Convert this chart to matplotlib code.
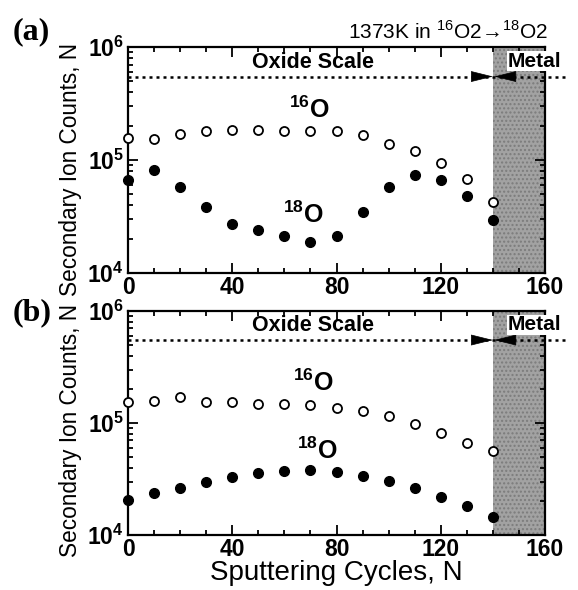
import numpy as np
import matplotlib
matplotlib.use("Agg")
import matplotlib.pyplot as plt
from matplotlib.ticker import MultipleLocator, LogLocator, NullFormatter

plt.rcParams["font.family"] = ["Liberation Sans", "DejaVu Sans"]
plt.rcParams["mathtext.fontset"] = "custom"
plt.rcParams["mathtext.rm"] = "Liberation Sans"
plt.rcParams["mathtext.bf"] = "Liberation Sans:bold"

# sputtering cycles
cycles = [0, 10, 20, 30, 40, 50, 60, 70, 80, 90, 100, 110, 120, 130, 140]

# panel (a)
o16_a = [1.57e5, 1.55e5, 1.72e5, 1.80e5, 1.86e5, 1.86e5, 1.80e5, 1.82e5,
         1.82e5, 1.66e5, 1.40e5, 1.21e5, 9.4e4, 6.8e4, 4.25e4]
o18_a = [6.7e4, 8.2e4, 5.8e4, 3.85e4, 2.74e4, 2.39e4, 2.14e4, 1.87e4,
         2.14e4, 3.5e4, 5.74e4, 7.4e4, 6.7e4, 4.84e4, 2.93e4]

# panel (b)
o16_b = [1.53e5, 1.57e5, 1.70e5, 1.53e5, 1.53e5, 1.49e5, 1.49e5, 1.46e5,
         1.37e5, 1.28e5, 1.15e5, 9.9e4, 8.1e4, 6.6e4, 5.6e4]
o18_b = [2.07e4, 2.38e4, 2.65e4, 2.99e4, 3.32e4, 3.55e4, 3.70e4, 3.82e4,
         3.65e4, 3.38e4, 3.05e4, 2.62e4, 2.21e4, 1.83e4, 1.46e4]

interface = 140
xmax = 160
arrow_y = 5.5e5

fig = plt.figure(figsize=(5.78, 5.90), dpi=100)
ax_a = fig.add_axes([0.2215, 0.537, 0.7215, 0.383])
ax_b = fig.add_axes([0.2215, 0.093, 0.7215, 0.380])


def setup(ax, o16, o18, lab16, lab18, ylab_y):
    ax.axvspan(interface, xmax, facecolor="#a2a2a2", edgecolor="#7c7c7c",
               hatch="....", lw=0, zorder=0)
    ax.plot(cycles, o16, "o", ms=6.5, mfc="white", mec="k", mew=1.3, zorder=3,
            clip_on=False)
    ax.plot(cycles, o18, "o", ms=7, mfc="k", mec="k", zorder=3, clip_on=False)
    ax.set_yscale("log")
    ax.set_xlim(0, xmax)
    ax.set_ylim(1e4, 1e6)
    ax.xaxis.set_major_locator(MultipleLocator(40))
    ax.xaxis.set_minor_locator(MultipleLocator(10))
    ax.yaxis.set_major_locator(LogLocator(base=10, numticks=5))
    ax.yaxis.set_minor_locator(LogLocator(base=10, subs=np.arange(2, 10), numticks=20))
    ax.yaxis.set_minor_formatter(NullFormatter())
    ax.tick_params(which="both", direction="in", top=True, right=True, width=1.3)
    ax.tick_params(which="major", length=7, labelsize=16.5, pad=2)
    ax.tick_params(axis="y", which="major", pad=3)
    ax.tick_params(which="minor", length=3.5)
    for t in ax.get_xticklabels() + ax.get_yticklabels():
        t.set_fontweight("bold")
    for s in ax.spines.values():
        s.set_linewidth(1.6)
    ax.set_ylabel("Secondary Ion Counts, N", fontsize=16.3)
    ax.yaxis.set_label_coords(-0.11, ylab_y)

    # dotted line with the two arrow heads at the interface
    ax.plot([0, 168], [arrow_y, arrow_y], ls=(0, (1.2, 1.6)), color="k", lw=1.8,
            clip_on=False, zorder=4)
    head = "-|>,head_length=1.45,head_width=0.36"
    ax.annotate("", xy=(interface, arrow_y), xytext=(interface - 7.7, arrow_y),
                arrowprops=dict(arrowstyle=head, color="k", lw=0.5,
                                shrinkA=0, shrinkB=0), zorder=5)
    ax.annotate("", xy=(interface + 0.5, arrow_y), xytext=(interface + 8.5, arrow_y),
                arrowprops=dict(arrowstyle=head, color="k", lw=0.5,
                                shrinkA=0, shrinkB=0), zorder=5)
    ax.text(71, 7.35e5, "Oxide Scale", fontsize=15.5, fontweight="bold",
            ha="center", va="center")
    ax.text(156, 7.5e5, "Metal", fontsize=15, fontweight="bold",
            ha="center", va="center", zorder=6,
            bbox=dict(facecolor="white", edgecolor="none", pad=0.5))
    ax.text(lab16[0], lab16[1], r"$\mathbf{^{16}O}$", fontsize=18,
            ha="center", va="center")
    ax.text(lab18[0], lab18[1], r"$\mathbf{^{18}O}$", fontsize=18,
            ha="center", va="center")


setup(ax_a, o16_a, o18_a, (69.5, 10 ** 5.45), (67.4, 10 ** 4.516), 0.458)
setup(ax_b, o16_b, o18_b, (71, 10 ** 5.363), (72.7, 10 ** 4.756), 0.466)
ax_b.set_xlabel("Sputtering Cycles, N", fontsize=20, labelpad=-1)

fig.text(0.022, 1 - 32 / 590, "(a)", fontsize=23, fontweight="bold",
         family="Liberation Serif", ha="left", va="center")
fig.text(0.022, 1 - 313 / 590, "(b)", fontsize=23, fontweight="bold",
         family="Liberation Serif", ha="left", va="center")
fig.text(0.948, 1 - 32 / 590, "1373K in $^{16}$O2→$^{18}$O2", fontsize=15,
         ha="right", va="center")

fig.savefig("out.png", dpi=100)
